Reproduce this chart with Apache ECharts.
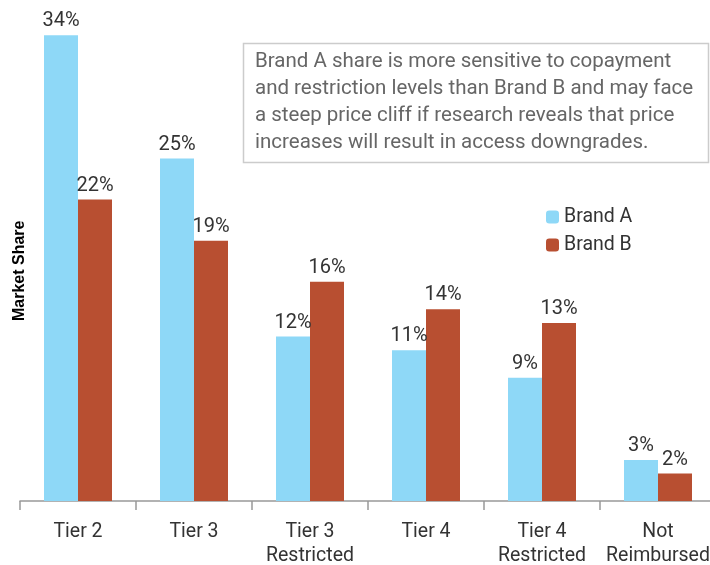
<!DOCTYPE html>
<html><head><meta charset="utf-8">
<script src="https://cdn.jsdelivr.net/npm/echarts@6/dist/echarts.min.js"></script>
<style>html,body{margin:0;padding:0;background:#fff}#c{width:710px;height:565px}</style>
</head><body><div id="c"></div>
<script>
const categories = ['Tier 2', 'Tier 3', 'Tier 3\nRestricted', 'Tier 4', 'Tier 4\nRestricted', 'Not\nReimbursed'];
const brandA = [34, 25, 12, 11, 9, 3];
const brandB = [22, 19, 16, 14, 13, 2];
const seriesNames = ['Brand A', 'Brand B'];
const axisTitle = 'Market Share';
const noteText = 'Brand A share is more sensitive to copayment\nand restriction levels than Brand B and may face\na steep price cliff if research reveals that price\nincreases will result in access downgrades.';

const font = "Roboto, 'Liberation Sans', sans-serif";
const chart = echarts.init(document.getElementById('c'));
const labelCfg = {show: true, position: 'top', distance: 4, formatter: '{c}%', color: '#333', fontSize: 20, fontFamily: font};
chart.setOption({
  animation: false,
  grid: {left: 20, width: 696, top: 21.5, height: 479.5, containLabel: false, outerBoundsMode: 'none'},
  legend: {
    orient: 'vertical', left: 541, top: 202, itemWidth: 13, itemHeight: 13, itemGap: 8,
    textStyle: {fontSize: 19.5, color: '#333', fontFamily: font},
    data: seriesNames
  },
  xAxis: {
    type: 'category', data: categories,
    axisLine: {lineStyle: {color: '#999', width: 1.5}},
    axisTick: {show: true, length: 9, lineStyle: {color: '#999', width: 1.5}},
    axisLabel: {fontSize: 19.5, color: '#333', fontFamily: font, margin: 19, lineHeight: 24, interval: 0}
  },
  yAxis: {
    type: 'value', min: 0, max: 35,
    axisLine: {show: false}, axisTick: {show: false}, axisLabel: {show: false}, splitLine: {show: false}
  },
  series: [
    {name: seriesNames[0], type: 'bar', data: brandA, barWidth: 34, barGap: '0%', itemStyle: {color: '#8ED8F7'}, label: labelCfg},
    {name: seriesNames[1], type: 'bar', data: brandB, barWidth: 34, itemStyle: {color: '#B84F31'}, label: labelCfg}
  ],
  graphic: [
    {type: 'text', style: {text: axisTitle, fontSize: 16, fontWeight: 'bold', fill: '#000', fontFamily: "'Liberation Sans', Arial, sans-serif"}, rotation: Math.PI/2, x: 12, y: 321},
    {type: 'rect', shape: {x: 243.5, y: 43.5, width: 465, height: 119}, style: {fill: '#fff', stroke: '#ccc', lineWidth: 1.5}},
    {type: 'text', x: 255, y: 49, style: {text: noteText, fontSize: 20.5, lineHeight: 26.7, fill: '#666', fontFamily: font}}
  ]
});
</script></body></html>
